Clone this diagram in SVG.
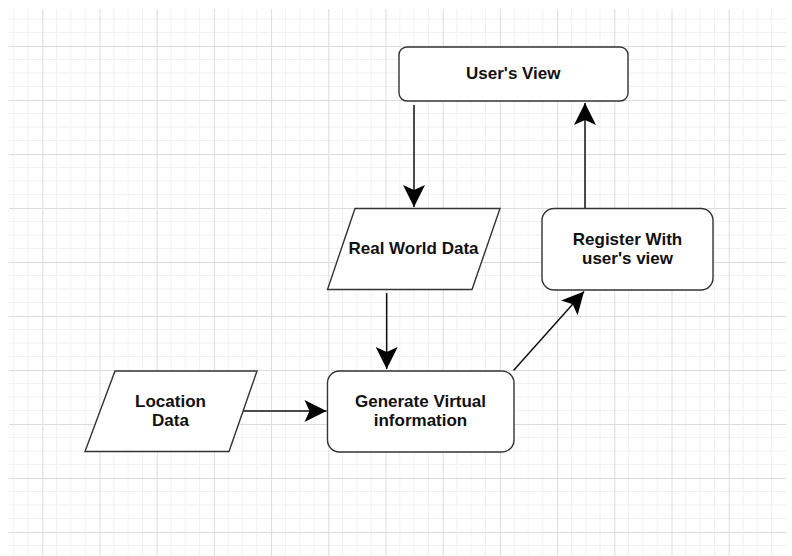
<svg xmlns="http://www.w3.org/2000/svg" width="792" height="556" viewBox="0 0 792 556">
  <style>
    .box { fill: #ffffff; stroke: #333333; stroke-width: 1.4; }
    .lbl { font-family: "Liberation Sans", Arial, Helvetica, sans-serif; font-size: 17px; font-weight: bold; fill: #111111; text-anchor: middle; }
    .edge { fill: none; stroke: #111111; stroke-width: 1.5; }
    .minor { stroke: #f1f1f1; stroke-width: 1; }
    .major { stroke: #dcdcdc; stroke-width: 1; }
  </style>
  <defs>
    <!-- background grid: 4 minor cells per major cell -->
    <pattern id="grid" patternUnits="userSpaceOnUse" x="42.3" y="46" width="57.2" height="54">
      <line class="minor" x1="14.3" y1="0" x2="14.3" y2="54"/>
      <line class="minor" x1="28.6" y1="0" x2="28.6" y2="54"/>
      <line class="minor" x1="42.9" y1="0" x2="42.9" y2="54"/>
      <line class="minor" x1="0" y1="13.5" x2="57.2" y2="13.5"/>
      <line class="minor" x1="0" y1="27" x2="57.2" y2="27"/>
      <line class="minor" x1="0" y1="40.5" x2="57.2" y2="40.5"/>
      <line class="major" x1="0.5" y1="0" x2="0.5" y2="54"/>
      <line class="major" x1="0" y1="0.5" x2="57.2" y2="0.5"/>
    </pattern>
    <!-- classic filled arrowhead -->
    <marker id="arrow" markerUnits="userSpaceOnUse" markerWidth="26" markerHeight="26" refX="23" refY="11" orient="auto" viewBox="0 0 26 22">
      <path d="M23,11 L1,0 L6,11 L1,22 Z" fill="#000000"/>
    </marker>
  </defs>

  <rect width="792" height="556" fill="#ffffff"/>
  <rect x="9" y="9" width="777" height="547" fill="url(#grid)"/>

  <g id="connectors">
    <line class="edge" x1="414" y1="105" x2="414" y2="207" marker-end="url(#arrow)"/>
    <line class="edge" x1="386.7" y1="293" x2="386.7" y2="369" marker-end="url(#arrow)"/>
    <line class="edge" x1="243" y1="411" x2="326.5" y2="411" marker-end="url(#arrow)"/>
    <line class="edge" x1="513.5" y1="370.5" x2="584" y2="291.5" marker-end="url(#arrow)"/>
    <line class="edge" x1="585" y1="208" x2="585" y2="103" marker-end="url(#arrow)"/>
  </g>

  <g id="users-view">
    <rect class="box" x="399" y="47" width="229" height="54" rx="8"/>
    <text class="lbl" x="513.3" y="79.3">User's View</text>
  </g>

  <g id="real-world-data">
    <polygon class="box" points="355,208.5 500,208.5 472,289.5 327.5,289.5"/>
    <text class="lbl" x="413.5" y="254.3">Real World Data</text>
  </g>

  <g id="register">
    <rect class="box" x="542" y="208.5" width="171" height="81.5" rx="12"/>
    <text class="lbl" x="627.5" y="245">Register With</text>
    <text class="lbl" x="627.5" y="263.8">user's view</text>
  </g>

  <g id="location-data">
    <polygon class="box" points="115,371 257,371 229,451.5 85,451.5"/>
    <text class="lbl" x="170.5" y="406.7">Location</text>
    <text class="lbl" x="170.5" y="425.8">Data</text>
  </g>

  <g id="generate-virtual">
    <rect class="box" x="327.5" y="371" width="186.5" height="81" rx="12"/>
    <text class="lbl" x="420.5" y="406.7">Generate Virtual</text>
    <text class="lbl" x="420.5" y="425.8">information</text>
  </g>
</svg>
